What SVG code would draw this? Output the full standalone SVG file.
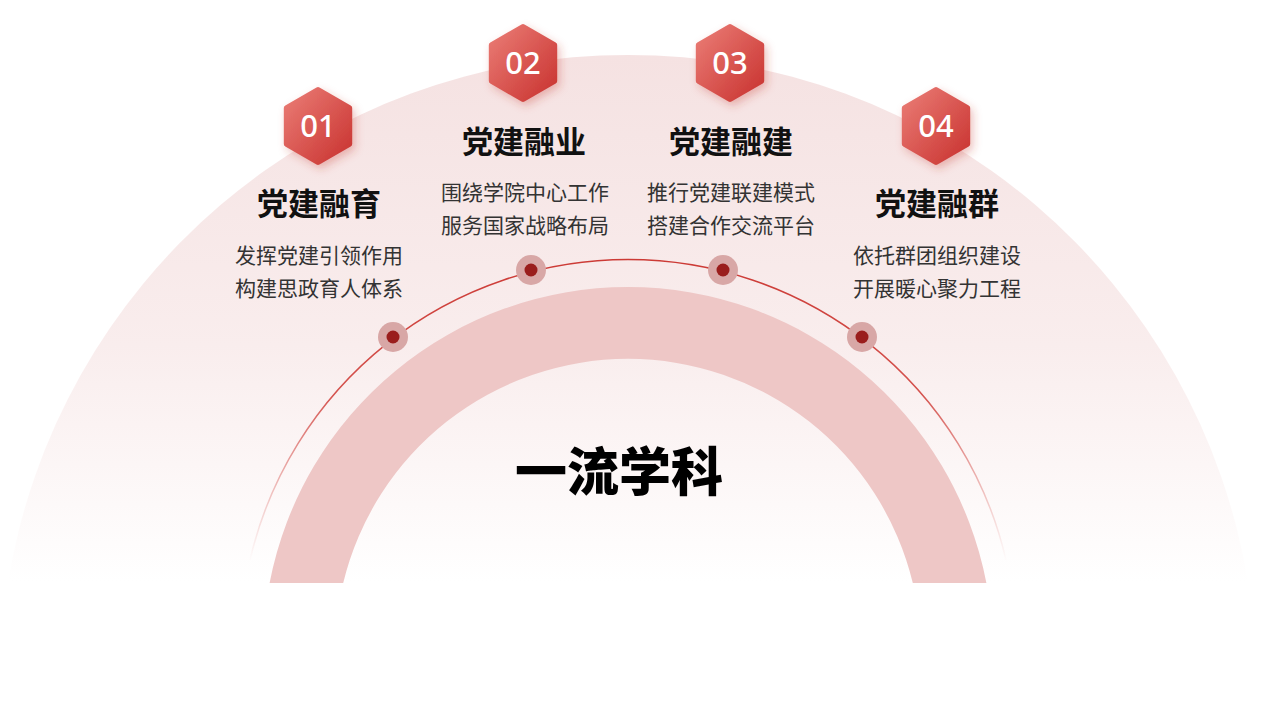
<svg xmlns="http://www.w3.org/2000/svg" width="1268" height="714" viewBox="0 0 1268 714">
  <defs>
    <linearGradient id="bgGrad" x1="0" y1="0" x2="0" y2="1">
      <stop offset="0" stop-color="#f5e2e2"/>
      <stop offset="0.55" stop-color="#f9eded"/>
      <stop offset="1" stop-color="#ffffff"/>
    </linearGradient>
    <linearGradient id="lineGrad" gradientUnits="userSpaceOnUse" x1="0" y1="258" x2="0" y2="562">
      <stop offset="0" stop-color="#cc3a35" stop-opacity="1"/>
      <stop offset="0.45" stop-color="#d0413c" stop-opacity="0.9"/>
      <stop offset="1" stop-color="#e07a76" stop-opacity="0"/>
    </linearGradient>
    <linearGradient id="hexGrad" x1="0" y1="0" x2="1" y2="1">
      <stop offset="0" stop-color="#ea7c75"/>
      <stop offset="1" stop-color="#c93330"/>
    </linearGradient>
    <filter id="hexShadow" x="-40%" y="-40%" width="180%" height="180%">
      <feDropShadow dx="3" dy="4" stdDeviation="4" flood-color="#c53530" flood-opacity="0.3"/>
    </filter>
    <style>
      .hex { fill: url(#hexGrad); stroke: url(#hexGrad); stroke-width: 6; stroke-linejoin: round; filter: url(#hexShadow); }
      .num { font-family: "Noto Sans", "Liberation Sans", sans-serif; font-size: 31px; font-weight: 500; fill: #ffffff; text-anchor: middle; }
      .title { font-family: "Noto Sans CJK SC", sans-serif; font-size: 31px; font-weight: 700; fill: #111111; text-anchor: middle; }
      .desc { font-family: "Noto Sans CJK SC", sans-serif; font-size: 21px; fill: #333333; text-anchor: middle; }
      .main { font-family: "Noto Sans CJK SC", sans-serif; font-size: 52px; font-weight: 900; fill: #000000; text-anchor: middle; }
      .dotOuter { fill: #d8a7a6; }
      .dotInner { fill: #9a1d1c; }
    </style>
  </defs>

  <rect x="0" y="0" width="1268" height="714" fill="#ffffff"/>

  <g id="background">
    <path d="M 8,583 A 628 628 0 0 1 1248,583 Z" fill="url(#bgGrad)"/>
    <path d="M 269.6,583 A 365 365 0 0 1 986.4,583 L 912.8,583 A 293 293 0 0 0 343.2,583 Z" fill="#eec7c6"/>
  </g>

  <g id="connectors">
    <path d="M 250,560 A 388 388 0 0 1 1006,560" fill="none" stroke="url(#lineGrad)" stroke-width="1.5"/>
  </g>

  <g id="dots">
    <circle class="dotOuter" cx="393" cy="337" r="15"/>
    <circle class="dotInner" cx="393" cy="337" r="6.5"/>
    <circle class="dotOuter" cx="531" cy="270" r="15"/>
    <circle class="dotInner" cx="531" cy="270" r="6.5"/>
    <circle class="dotOuter" cx="723" cy="270" r="15"/>
    <circle class="dotInner" cx="723" cy="270" r="6.5"/>
    <circle class="dotOuter" cx="862" cy="337" r="15"/>
    <circle class="dotInner" cx="862" cy="337" r="6.5"/>
  </g>

  <g id="node-01">
    <polygon class="hex" points="318,90 349.2,108 349.2,144 318,162 286.8,144 286.8,108"/>
    <text class="num" x="318" y="137">01</text>
    <text class="title" x="319" y="215">党建融育</text>
    <text class="desc" x="319" y="263">发挥党建引领作用</text>
    <text class="desc" x="319" y="296">构建思政育人体系</text>
  </g>

  <g id="node-02">
    <polygon class="hex" points="523,27 554.2,45 554.2,81 523,99 491.8,81 491.8,45"/>
    <text class="num" x="523" y="74">02</text>
    <text class="title" x="524" y="153">党建融业</text>
    <text class="desc" x="525" y="200">围绕学院中心工作</text>
    <text class="desc" x="525" y="233">服务国家战略布局</text>
  </g>

  <g id="node-03">
    <polygon class="hex" points="730,27 761.2,45 761.2,81 730,99 698.8,81 698.8,45"/>
    <text class="num" x="730" y="74">03</text>
    <text class="title" x="731" y="153">党建融建</text>
    <text class="desc" x="731" y="200">推行党建联建模式</text>
    <text class="desc" x="731" y="233">搭建合作交流平台</text>
  </g>

  <g id="node-04">
    <polygon class="hex" points="936,90 967.2,108 967.2,144 936,162 904.8,144 904.8,108"/>
    <text class="num" x="936" y="137">04</text>
    <text class="title" x="937" y="215">党建融群</text>
    <text class="desc" x="937" y="263">依托群团组织建设</text>
    <text class="desc" x="937" y="296">开展暖心聚力工程</text>
  </g>

  <g id="center">
    <text class="main" x="619" y="491">一流学科</text>
  </g>
</svg>
